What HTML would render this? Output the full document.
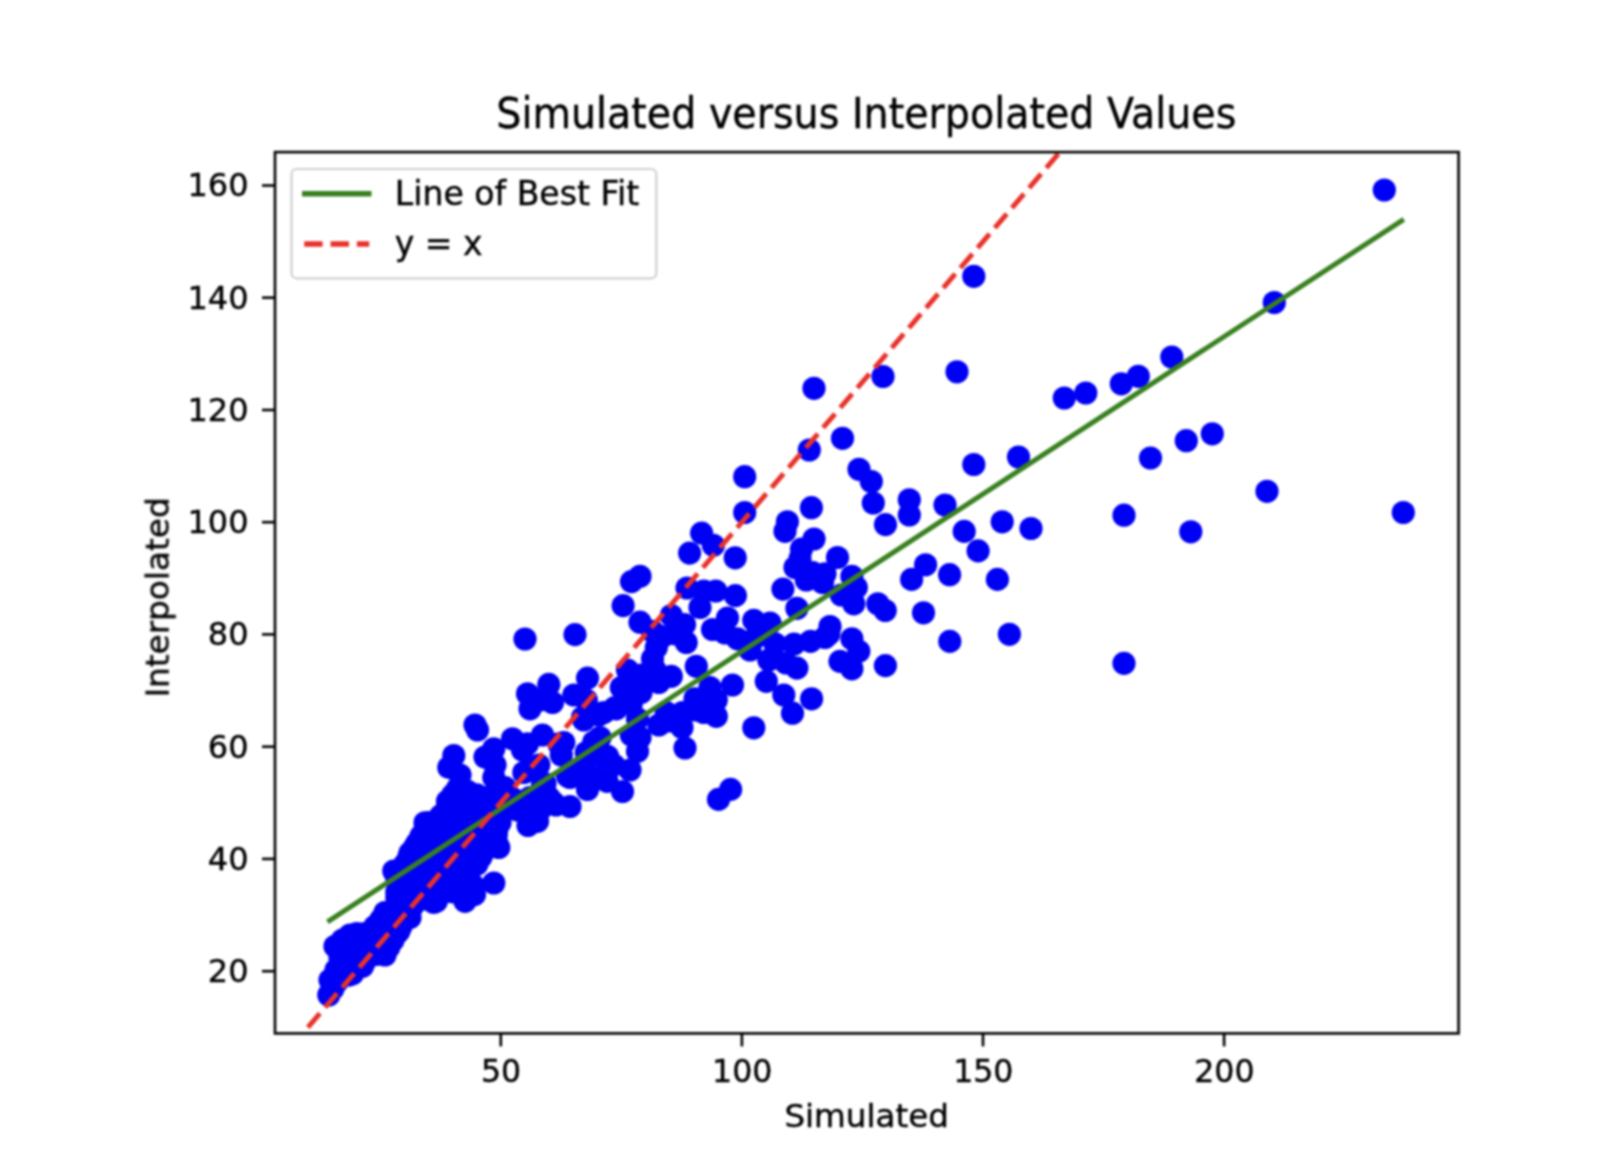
<!DOCTYPE html>
<html lang="en"><head><meta charset="utf-8"><title>Simulated versus Interpolated Values</title>
<style>html,body{margin:0;padding:0;background:#fff;}body{width:1600px;height:1168px;overflow:hidden;}svg{display:block;}text{font-family:"DejaVu Sans","Liberation Sans",sans-serif;fill:#000000;stroke:#000000;stroke-width:0.4px;}</style>
</head><body>
<svg width="1600" height="1168" viewBox="0 0 1600 1168">
<defs><clipPath id="ax"><rect x="275.0" y="152.1" width="1183.6" height="881.3"/></clipPath><filter id="soft" x="-2%" y="-2%" width="104%" height="104%"><feGaussianBlur stdDeviation="0.7"/></filter></defs>
<rect width="1600" height="1168" fill="#ffffff"/>
<g style="filter:blur(1.0px)">
<g clip-path="url(#ax)" fill="#0000f5">
<circle cx="452.8" cy="794.9" r="11.6"/>
<circle cx="460.8" cy="794.9" r="11.6"/>
<circle cx="468.8" cy="794.9" r="11.6"/>
<circle cx="476.8" cy="794.9" r="11.6"/>
<circle cx="448.8" cy="801.9" r="11.6"/>
<circle cx="456.8" cy="801.9" r="11.6"/>
<circle cx="464.8" cy="801.9" r="11.6"/>
<circle cx="472.8" cy="801.9" r="11.6"/>
<circle cx="480.8" cy="801.9" r="11.6"/>
<circle cx="488.8" cy="801.9" r="11.6"/>
<circle cx="496.8" cy="801.9" r="11.6"/>
<circle cx="504.8" cy="801.9" r="11.6"/>
<circle cx="512.8" cy="801.9" r="11.6"/>
<circle cx="520.8" cy="801.9" r="11.6"/>
<circle cx="528.8" cy="801.9" r="11.6"/>
<circle cx="536.8" cy="801.9" r="11.6"/>
<circle cx="544.8" cy="801.9" r="11.6"/>
<circle cx="552.8" cy="801.9" r="11.6"/>
<circle cx="452.8" cy="808.8" r="11.6"/>
<circle cx="460.8" cy="808.8" r="11.6"/>
<circle cx="468.8" cy="808.8" r="11.6"/>
<circle cx="476.8" cy="808.8" r="11.6"/>
<circle cx="484.8" cy="808.8" r="11.6"/>
<circle cx="492.8" cy="808.8" r="11.6"/>
<circle cx="500.8" cy="808.8" r="11.6"/>
<circle cx="508.8" cy="808.8" r="11.6"/>
<circle cx="516.8" cy="808.8" r="11.6"/>
<circle cx="524.8" cy="808.8" r="11.6"/>
<circle cx="532.8" cy="808.8" r="11.6"/>
<circle cx="540.8" cy="808.8" r="11.6"/>
<circle cx="440.8" cy="815.7" r="11.6"/>
<circle cx="448.8" cy="815.7" r="11.6"/>
<circle cx="456.8" cy="815.7" r="11.6"/>
<circle cx="464.8" cy="815.7" r="11.6"/>
<circle cx="472.8" cy="815.7" r="11.6"/>
<circle cx="480.8" cy="815.7" r="11.6"/>
<circle cx="488.8" cy="815.7" r="11.6"/>
<circle cx="496.8" cy="815.7" r="11.6"/>
<circle cx="428.8" cy="822.6" r="11.6"/>
<circle cx="436.8" cy="822.6" r="11.6"/>
<circle cx="444.8" cy="822.6" r="11.6"/>
<circle cx="452.8" cy="822.6" r="11.6"/>
<circle cx="460.8" cy="822.6" r="11.6"/>
<circle cx="468.8" cy="822.6" r="11.6"/>
<circle cx="476.8" cy="822.6" r="11.6"/>
<circle cx="484.8" cy="822.6" r="11.6"/>
<circle cx="492.8" cy="822.6" r="11.6"/>
<circle cx="424.8" cy="829.6" r="11.6"/>
<circle cx="432.8" cy="829.6" r="11.6"/>
<circle cx="440.8" cy="829.6" r="11.6"/>
<circle cx="448.8" cy="829.6" r="11.6"/>
<circle cx="456.8" cy="829.6" r="11.6"/>
<circle cx="464.8" cy="829.6" r="11.6"/>
<circle cx="472.8" cy="829.6" r="11.6"/>
<circle cx="480.8" cy="829.6" r="11.6"/>
<circle cx="488.8" cy="829.6" r="11.6"/>
<circle cx="496.8" cy="829.6" r="11.6"/>
<circle cx="420.8" cy="836.5" r="11.6"/>
<circle cx="428.8" cy="836.5" r="11.6"/>
<circle cx="436.8" cy="836.5" r="11.6"/>
<circle cx="444.8" cy="836.5" r="11.6"/>
<circle cx="452.8" cy="836.5" r="11.6"/>
<circle cx="460.8" cy="836.5" r="11.6"/>
<circle cx="468.8" cy="836.5" r="11.6"/>
<circle cx="476.8" cy="836.5" r="11.6"/>
<circle cx="484.8" cy="836.5" r="11.6"/>
<circle cx="492.8" cy="836.5" r="11.6"/>
<circle cx="416.8" cy="843.4" r="11.6"/>
<circle cx="424.8" cy="843.4" r="11.6"/>
<circle cx="432.8" cy="843.4" r="11.6"/>
<circle cx="440.8" cy="843.4" r="11.6"/>
<circle cx="448.8" cy="843.4" r="11.6"/>
<circle cx="456.8" cy="843.4" r="11.6"/>
<circle cx="464.8" cy="843.4" r="11.6"/>
<circle cx="472.8" cy="843.4" r="11.6"/>
<circle cx="480.8" cy="843.4" r="11.6"/>
<circle cx="488.8" cy="843.4" r="11.6"/>
<circle cx="496.8" cy="843.4" r="11.6"/>
<circle cx="412.8" cy="850.4" r="11.6"/>
<circle cx="420.8" cy="850.4" r="11.6"/>
<circle cx="428.8" cy="850.4" r="11.6"/>
<circle cx="436.8" cy="850.4" r="11.6"/>
<circle cx="444.8" cy="850.4" r="11.6"/>
<circle cx="452.8" cy="850.4" r="11.6"/>
<circle cx="460.8" cy="850.4" r="11.6"/>
<circle cx="468.8" cy="850.4" r="11.6"/>
<circle cx="476.8" cy="850.4" r="11.6"/>
<circle cx="484.8" cy="850.4" r="11.6"/>
<circle cx="408.8" cy="857.3" r="11.6"/>
<circle cx="416.8" cy="857.3" r="11.6"/>
<circle cx="424.8" cy="857.3" r="11.6"/>
<circle cx="432.8" cy="857.3" r="11.6"/>
<circle cx="440.8" cy="857.3" r="11.6"/>
<circle cx="448.8" cy="857.3" r="11.6"/>
<circle cx="456.8" cy="857.3" r="11.6"/>
<circle cx="464.8" cy="857.3" r="11.6"/>
<circle cx="472.8" cy="857.3" r="11.6"/>
<circle cx="480.8" cy="857.3" r="11.6"/>
<circle cx="404.8" cy="864.2" r="11.6"/>
<circle cx="412.8" cy="864.2" r="11.6"/>
<circle cx="420.8" cy="864.2" r="11.6"/>
<circle cx="428.8" cy="864.2" r="11.6"/>
<circle cx="436.8" cy="864.2" r="11.6"/>
<circle cx="444.8" cy="864.2" r="11.6"/>
<circle cx="452.8" cy="864.2" r="11.6"/>
<circle cx="460.8" cy="864.2" r="11.6"/>
<circle cx="468.8" cy="864.2" r="11.6"/>
<circle cx="476.8" cy="864.2" r="11.6"/>
<circle cx="400.8" cy="871.1" r="11.6"/>
<circle cx="408.8" cy="871.1" r="11.6"/>
<circle cx="416.8" cy="871.1" r="11.6"/>
<circle cx="424.8" cy="871.1" r="11.6"/>
<circle cx="432.8" cy="871.1" r="11.6"/>
<circle cx="440.8" cy="871.1" r="11.6"/>
<circle cx="448.8" cy="871.1" r="11.6"/>
<circle cx="456.8" cy="871.1" r="11.6"/>
<circle cx="464.8" cy="871.1" r="11.6"/>
<circle cx="396.8" cy="878.1" r="11.6"/>
<circle cx="404.8" cy="878.1" r="11.6"/>
<circle cx="412.8" cy="878.1" r="11.6"/>
<circle cx="420.8" cy="878.1" r="11.6"/>
<circle cx="428.8" cy="878.1" r="11.6"/>
<circle cx="436.8" cy="878.1" r="11.6"/>
<circle cx="444.8" cy="878.1" r="11.6"/>
<circle cx="452.8" cy="878.1" r="11.6"/>
<circle cx="460.8" cy="878.1" r="11.6"/>
<circle cx="468.8" cy="878.1" r="11.6"/>
<circle cx="400.8" cy="885.0" r="11.6"/>
<circle cx="408.8" cy="885.0" r="11.6"/>
<circle cx="416.8" cy="885.0" r="11.6"/>
<circle cx="424.8" cy="885.0" r="11.6"/>
<circle cx="432.8" cy="885.0" r="11.6"/>
<circle cx="440.8" cy="885.0" r="11.6"/>
<circle cx="448.8" cy="885.0" r="11.6"/>
<circle cx="456.8" cy="885.0" r="11.6"/>
<circle cx="464.8" cy="885.0" r="11.6"/>
<circle cx="472.8" cy="885.0" r="11.6"/>
<circle cx="396.8" cy="891.9" r="11.6"/>
<circle cx="404.8" cy="891.9" r="11.6"/>
<circle cx="412.8" cy="891.9" r="11.6"/>
<circle cx="420.8" cy="891.9" r="11.6"/>
<circle cx="428.8" cy="891.9" r="11.6"/>
<circle cx="436.8" cy="891.9" r="11.6"/>
<circle cx="444.8" cy="891.9" r="11.6"/>
<circle cx="452.8" cy="891.9" r="11.6"/>
<circle cx="460.8" cy="891.9" r="11.6"/>
<circle cx="468.8" cy="891.9" r="11.6"/>
<circle cx="400.8" cy="898.8" r="11.6"/>
<circle cx="408.8" cy="898.8" r="11.6"/>
<circle cx="416.8" cy="898.8" r="11.6"/>
<circle cx="424.8" cy="898.8" r="11.6"/>
<circle cx="432.8" cy="898.8" r="11.6"/>
<circle cx="464.8" cy="898.8" r="11.6"/>
<circle cx="396.8" cy="905.8" r="11.6"/>
<circle cx="404.8" cy="905.8" r="11.6"/>
<circle cx="412.8" cy="905.8" r="11.6"/>
<circle cx="392.8" cy="912.7" r="11.6"/>
<circle cx="400.8" cy="912.7" r="11.6"/>
<circle cx="408.8" cy="912.7" r="11.6"/>
<circle cx="380.8" cy="919.6" r="11.6"/>
<circle cx="388.8" cy="919.6" r="11.6"/>
<circle cx="396.8" cy="919.6" r="11.6"/>
<circle cx="404.8" cy="919.6" r="11.6"/>
<circle cx="376.8" cy="926.6" r="11.6"/>
<circle cx="384.8" cy="926.6" r="11.6"/>
<circle cx="392.8" cy="926.6" r="11.6"/>
<circle cx="400.8" cy="926.6" r="11.6"/>
<circle cx="356.8" cy="933.5" r="11.6"/>
<circle cx="364.8" cy="933.5" r="11.6"/>
<circle cx="372.8" cy="933.5" r="11.6"/>
<circle cx="380.8" cy="933.5" r="11.6"/>
<circle cx="388.8" cy="933.5" r="11.6"/>
<circle cx="396.8" cy="933.5" r="11.6"/>
<circle cx="344.8" cy="940.4" r="11.6"/>
<circle cx="352.8" cy="940.4" r="11.6"/>
<circle cx="360.8" cy="940.4" r="11.6"/>
<circle cx="368.8" cy="940.4" r="11.6"/>
<circle cx="376.8" cy="940.4" r="11.6"/>
<circle cx="384.8" cy="940.4" r="11.6"/>
<circle cx="392.8" cy="940.4" r="11.6"/>
<circle cx="340.8" cy="947.3" r="11.6"/>
<circle cx="348.8" cy="947.3" r="11.6"/>
<circle cx="356.8" cy="947.3" r="11.6"/>
<circle cx="364.8" cy="947.3" r="11.6"/>
<circle cx="372.8" cy="947.3" r="11.6"/>
<circle cx="380.8" cy="947.3" r="11.6"/>
<circle cx="388.8" cy="947.3" r="11.6"/>
<circle cx="344.8" cy="954.3" r="11.6"/>
<circle cx="352.8" cy="954.3" r="11.6"/>
<circle cx="360.8" cy="954.3" r="11.6"/>
<circle cx="368.8" cy="954.3" r="11.6"/>
<circle cx="376.8" cy="954.3" r="11.6"/>
<circle cx="384.8" cy="954.3" r="11.6"/>
<circle cx="340.8" cy="961.2" r="11.6"/>
<circle cx="348.8" cy="961.2" r="11.6"/>
<circle cx="356.8" cy="961.2" r="11.6"/>
<circle cx="364.8" cy="961.2" r="11.6"/>
<circle cx="344.8" cy="968.1" r="11.6"/>
<circle cx="352.8" cy="968.1" r="11.6"/>
<circle cx="340.8" cy="975.1" r="11.6"/>
<circle cx="348.8" cy="975.1" r="11.6"/>
<circle cx="336.8" cy="982.0" r="11.6"/>
<circle cx="332.8" cy="988.9" r="11.6"/>
<circle cx="540.0" cy="700.0" r="11.6"/>
<circle cx="527.5" cy="743.8" r="11.6"/>
<circle cx="670.0" cy="721.0" r="11.6"/>
<circle cx="656.3" cy="647.5" r="11.6"/>
<circle cx="652.5" cy="631.3" r="11.6"/>
<circle cx="641.3" cy="675.0" r="11.6"/>
<circle cx="631.3" cy="703.8" r="11.6"/>
<circle cx="675.0" cy="720.0" r="11.6"/>
<circle cx="695.0" cy="710.0" r="11.6"/>
<circle cx="505.0" cy="787.5" r="11.6"/>
<circle cx="387.5" cy="925.0" r="11.6"/>
<circle cx="423.8" cy="876.0" r="11.6"/>
<circle cx="404.0" cy="868.0" r="11.6"/>
<circle cx="457.5" cy="788.8" r="11.6"/>
<circle cx="1384.3" cy="190.0" r="11.6"/>
<circle cx="1274.3" cy="302.5" r="11.6"/>
<circle cx="1171.8" cy="357.0" r="11.6"/>
<circle cx="1138.3" cy="376.3" r="11.6"/>
<circle cx="1121.3" cy="383.8" r="11.6"/>
<circle cx="1085.8" cy="393.0" r="11.6"/>
<circle cx="1064.3" cy="398.0" r="11.6"/>
<circle cx="1212.3" cy="433.8" r="11.6"/>
<circle cx="1186.3" cy="440.7" r="11.6"/>
<circle cx="1150.5" cy="458.0" r="11.6"/>
<circle cx="1267.0" cy="491.3" r="11.6"/>
<circle cx="1403.3" cy="512.5" r="11.6"/>
<circle cx="1124.0" cy="515.2" r="11.6"/>
<circle cx="1190.8" cy="531.8" r="11.6"/>
<circle cx="1124.0" cy="663.3" r="11.6"/>
<circle cx="973.8" cy="276.3" r="11.6"/>
<circle cx="957.0" cy="371.8" r="11.6"/>
<circle cx="883.0" cy="376.5" r="11.6"/>
<circle cx="814.0" cy="388.3" r="11.6"/>
<circle cx="842.5" cy="438.3" r="11.6"/>
<circle cx="809.3" cy="450.0" r="11.6"/>
<circle cx="1018.5" cy="457.0" r="11.6"/>
<circle cx="973.8" cy="464.5" r="11.6"/>
<circle cx="859.0" cy="469.3" r="11.6"/>
<circle cx="871.3" cy="481.5" r="11.6"/>
<circle cx="744.7" cy="476.7" r="11.6"/>
<circle cx="909.3" cy="499.8" r="11.6"/>
<circle cx="873.3" cy="503.0" r="11.6"/>
<circle cx="945.0" cy="505.0" r="11.6"/>
<circle cx="811.4" cy="507.7" r="11.6"/>
<circle cx="909.3" cy="515.0" r="11.6"/>
<circle cx="744.7" cy="512.5" r="11.6"/>
<circle cx="787.4" cy="521.8" r="11.6"/>
<circle cx="885.5" cy="524.6" r="11.6"/>
<circle cx="1002.2" cy="521.8" r="11.6"/>
<circle cx="1031.0" cy="528.5" r="11.6"/>
<circle cx="964.2" cy="531.4" r="11.6"/>
<circle cx="978.1" cy="550.9" r="11.6"/>
<circle cx="925.6" cy="564.8" r="11.6"/>
<circle cx="911.6" cy="579.4" r="11.6"/>
<circle cx="949.6" cy="574.7" r="11.6"/>
<circle cx="997.4" cy="579.4" r="11.6"/>
<circle cx="877.8" cy="603.8" r="11.6"/>
<circle cx="885.2" cy="610.5" r="11.6"/>
<circle cx="923.5" cy="612.8" r="11.6"/>
<circle cx="949.8" cy="641.4" r="11.6"/>
<circle cx="1009.4" cy="634.3" r="11.6"/>
<circle cx="885.4" cy="665.6" r="11.6"/>
<circle cx="785.0" cy="531.3" r="11.6"/>
<circle cx="814.0" cy="539.0" r="11.6"/>
<circle cx="801.5" cy="549.0" r="11.6"/>
<circle cx="837.5" cy="557.5" r="11.6"/>
<circle cx="800.0" cy="558.8" r="11.6"/>
<circle cx="795.0" cy="567.5" r="11.6"/>
<circle cx="812.5" cy="572.5" r="11.6"/>
<circle cx="825.0" cy="573.8" r="11.6"/>
<circle cx="806.3" cy="580.0" r="11.6"/>
<circle cx="822.5" cy="582.5" r="11.6"/>
<circle cx="851.9" cy="576.3" r="11.6"/>
<circle cx="856.3" cy="587.5" r="11.6"/>
<circle cx="841.3" cy="595.0" r="11.6"/>
<circle cx="853.8" cy="603.8" r="11.6"/>
<circle cx="782.9" cy="589.1" r="11.6"/>
<circle cx="796.9" cy="608.3" r="11.6"/>
<circle cx="735.2" cy="557.8" r="11.6"/>
<circle cx="701.6" cy="533.1" r="11.6"/>
<circle cx="713.4" cy="545.3" r="11.6"/>
<circle cx="703.8" cy="591.0" r="11.6"/>
<circle cx="715.8" cy="591.0" r="11.6"/>
<circle cx="735.4" cy="595.6" r="11.6"/>
<circle cx="727.5" cy="618.0" r="11.6"/>
<circle cx="753.8" cy="620.3" r="11.6"/>
<circle cx="770.0" cy="623.0" r="11.6"/>
<circle cx="712.5" cy="629.5" r="11.6"/>
<circle cx="830.0" cy="626.5" r="11.6"/>
<circle cx="828.8" cy="634.0" r="11.6"/>
<circle cx="825.0" cy="637.5" r="11.6"/>
<circle cx="851.9" cy="638.8" r="11.6"/>
<circle cx="810.5" cy="641.3" r="11.6"/>
<circle cx="794.0" cy="644.0" r="11.6"/>
<circle cx="725.0" cy="633.0" r="11.6"/>
<circle cx="756.0" cy="637.0" r="11.6"/>
<circle cx="700.0" cy="607.5" r="11.6"/>
<circle cx="689.6" cy="553.1" r="11.6"/>
<circle cx="640.0" cy="576.3" r="11.6"/>
<circle cx="631.5" cy="581.6" r="11.6"/>
<circle cx="623.1" cy="605.6" r="11.6"/>
<circle cx="640.0" cy="622.2" r="11.6"/>
<circle cx="687.0" cy="588.0" r="11.6"/>
<circle cx="671.3" cy="615.5" r="11.6"/>
<circle cx="575.0" cy="634.6" r="11.6"/>
<circle cx="525.0" cy="639.0" r="11.6"/>
<circle cx="684.5" cy="624.5" r="11.6"/>
<circle cx="662.5" cy="636.5" r="11.6"/>
<circle cx="675.0" cy="633.8" r="11.6"/>
<circle cx="686.3" cy="642.5" r="11.6"/>
<circle cx="652.5" cy="658.8" r="11.6"/>
<circle cx="655.0" cy="670.0" r="11.6"/>
<circle cx="696.3" cy="666.3" r="11.6"/>
<circle cx="671.3" cy="676.3" r="11.6"/>
<circle cx="627.5" cy="670.0" r="11.6"/>
<circle cx="621.3" cy="687.5" r="11.6"/>
<circle cx="635.0" cy="685.0" r="11.6"/>
<circle cx="641.0" cy="692.5" r="11.6"/>
<circle cx="658.8" cy="682.5" r="11.6"/>
<circle cx="615.0" cy="707.5" r="11.6"/>
<circle cx="603.8" cy="712.5" r="11.6"/>
<circle cx="737.5" cy="638.8" r="11.6"/>
<circle cx="750.0" cy="650.0" r="11.6"/>
<circle cx="775.0" cy="643.8" r="11.6"/>
<circle cx="768.8" cy="660.0" r="11.6"/>
<circle cx="786.0" cy="663.0" r="11.6"/>
<circle cx="796.9" cy="668.1" r="11.6"/>
<circle cx="766.3" cy="681.3" r="11.6"/>
<circle cx="732.5" cy="685.0" r="11.6"/>
<circle cx="783.8" cy="695.0" r="11.6"/>
<circle cx="792.5" cy="713.2" r="11.6"/>
<circle cx="753.8" cy="727.8" r="11.6"/>
<circle cx="710.0" cy="687.5" r="11.6"/>
<circle cx="695.0" cy="698.8" r="11.6"/>
<circle cx="716.3" cy="700.0" r="11.6"/>
<circle cx="703.8" cy="712.5" r="11.6"/>
<circle cx="716.3" cy="716.3" r="11.6"/>
<circle cx="682.5" cy="712.5" r="11.6"/>
<circle cx="666.3" cy="712.5" r="11.6"/>
<circle cx="658.8" cy="725.0" r="11.6"/>
<circle cx="682.0" cy="727.5" r="11.6"/>
<circle cx="637.5" cy="718.8" r="11.6"/>
<circle cx="631.3" cy="735.0" r="11.6"/>
<circle cx="640.0" cy="737.5" r="11.6"/>
<circle cx="685.0" cy="748.0" r="11.6"/>
<circle cx="600.0" cy="737.5" r="11.6"/>
<circle cx="858.8" cy="651.3" r="11.6"/>
<circle cx="840.0" cy="661.3" r="11.6"/>
<circle cx="851.9" cy="668.8" r="11.6"/>
<circle cx="811.6" cy="698.8" r="11.6"/>
<circle cx="587.5" cy="678.1" r="11.6"/>
<circle cx="548.8" cy="684.4" r="11.6"/>
<circle cx="527.5" cy="693.8" r="11.6"/>
<circle cx="530.0" cy="708.8" r="11.6"/>
<circle cx="552.5" cy="702.5" r="11.6"/>
<circle cx="573.8" cy="695.0" r="11.6"/>
<circle cx="586.3" cy="700.0" r="11.6"/>
<circle cx="582.5" cy="717.5" r="11.6"/>
<circle cx="598.8" cy="715.0" r="11.6"/>
<circle cx="475.0" cy="725.0" r="11.6"/>
<circle cx="477.5" cy="730.0" r="11.6"/>
<circle cx="512.5" cy="738.8" r="11.6"/>
<circle cx="542.5" cy="735.0" r="11.6"/>
<circle cx="493.8" cy="748.8" r="11.6"/>
<circle cx="453.8" cy="755.5" r="11.6"/>
<circle cx="448.8" cy="767.5" r="11.6"/>
<circle cx="460.0" cy="775.0" r="11.6"/>
<circle cx="485.0" cy="757.0" r="11.6"/>
<circle cx="495.0" cy="765.0" r="11.6"/>
<circle cx="493.8" cy="777.5" r="11.6"/>
<circle cx="522.5" cy="750.0" r="11.6"/>
<circle cx="526.3" cy="771.3" r="11.6"/>
<circle cx="558.8" cy="743.8" r="11.6"/>
<circle cx="561.3" cy="755.0" r="11.6"/>
<circle cx="593.8" cy="742.0" r="11.6"/>
<circle cx="586.3" cy="752.5" r="11.6"/>
<circle cx="607.5" cy="756.3" r="11.6"/>
<circle cx="595.0" cy="777.5" r="11.6"/>
<circle cx="570.0" cy="777.5" r="11.6"/>
<circle cx="613.8" cy="765.0" r="11.6"/>
<circle cx="545.0" cy="783.8" r="11.6"/>
<circle cx="538.8" cy="765.0" r="11.6"/>
<circle cx="730.6" cy="789.4" r="11.6"/>
<circle cx="718.5" cy="799.4" r="11.6"/>
<circle cx="637.5" cy="751.3" r="11.6"/>
<circle cx="630.0" cy="770.0" r="11.6"/>
<circle cx="622.5" cy="791.5" r="11.6"/>
<circle cx="587.5" cy="789.5" r="11.6"/>
<circle cx="570.0" cy="806.5" r="11.6"/>
<circle cx="556.0" cy="805.0" r="11.6"/>
<circle cx="603.8" cy="757.5" r="11.6"/>
<circle cx="583.8" cy="720.0" r="11.6"/>
<circle cx="597.5" cy="713.8" r="11.6"/>
<circle cx="616.3" cy="708.8" r="11.6"/>
<circle cx="563.8" cy="742.5" r="11.6"/>
<circle cx="585.0" cy="770.0" r="11.6"/>
<circle cx="607.0" cy="781.3" r="11.6"/>
<circle cx="567.5" cy="776.0" r="11.6"/>
<circle cx="447.5" cy="801.3" r="11.6"/>
<circle cx="445.0" cy="812.5" r="11.6"/>
<circle cx="425.0" cy="822.8" r="11.6"/>
<circle cx="414.5" cy="847.5" r="11.6"/>
<circle cx="410.0" cy="853.0" r="11.6"/>
<circle cx="393.8" cy="871.0" r="11.6"/>
<circle cx="396.8" cy="897.5" r="11.6"/>
<circle cx="493.8" cy="883.0" r="11.6"/>
<circle cx="474.5" cy="894.5" r="11.6"/>
<circle cx="498.8" cy="847.5" r="11.6"/>
<circle cx="496.3" cy="835.0" r="11.6"/>
<circle cx="500.0" cy="822.5" r="11.6"/>
<circle cx="528.0" cy="825.5" r="11.6"/>
<circle cx="537.5" cy="821.3" r="11.6"/>
<circle cx="523.8" cy="772.5" r="11.6"/>
<circle cx="542.5" cy="785.0" r="11.6"/>
<circle cx="580.0" cy="772.0" r="11.6"/>
<circle cx="467.5" cy="791.3" r="11.6"/>
<circle cx="486.3" cy="797.5" r="11.6"/>
<circle cx="511.3" cy="797.5" r="11.6"/>
<circle cx="530.0" cy="797.5" r="11.6"/>
<circle cx="548.8" cy="797.5" r="11.6"/>
<circle cx="461.3" cy="812.5" r="11.6"/>
<circle cx="480.0" cy="816.3" r="11.6"/>
<circle cx="442.5" cy="828.8" r="11.6"/>
<circle cx="461.3" cy="832.5" r="11.6"/>
<circle cx="480.0" cy="835.0" r="11.6"/>
<circle cx="430.0" cy="847.5" r="11.6"/>
<circle cx="448.8" cy="850.0" r="11.6"/>
<circle cx="467.5" cy="852.5" r="11.6"/>
<circle cx="484.0" cy="849.0" r="11.6"/>
<circle cx="417.5" cy="866.3" r="11.6"/>
<circle cx="436.3" cy="868.8" r="11.6"/>
<circle cx="455.0" cy="872.5" r="11.6"/>
<circle cx="470.0" cy="869.0" r="11.6"/>
<circle cx="411.3" cy="885.0" r="11.6"/>
<circle cx="430.0" cy="887.5" r="11.6"/>
<circle cx="448.8" cy="887.5" r="11.6"/>
<circle cx="464.0" cy="885.0" r="11.6"/>
<circle cx="417.5" cy="900.0" r="11.6"/>
<circle cx="436.3" cy="901.3" r="11.6"/>
<circle cx="505.0" cy="810.0" r="11.6"/>
<circle cx="517.5" cy="810.0" r="11.6"/>
<circle cx="385.0" cy="912.5" r="11.6"/>
<circle cx="350.0" cy="935.0" r="11.6"/>
<circle cx="335.0" cy="946.3" r="11.6"/>
<circle cx="342.5" cy="940.0" r="11.6"/>
<circle cx="330.0" cy="980.0" r="11.6"/>
<circle cx="328.8" cy="995.0" r="11.6"/>
<circle cx="385.0" cy="955.0" r="11.6"/>
<circle cx="362.5" cy="966.3" r="11.6"/>
<circle cx="352.5" cy="973.8" r="11.6"/>
<circle cx="398.8" cy="931.3" r="11.6"/>
<circle cx="410.0" cy="917.5" r="11.6"/>
<circle cx="433.8" cy="902.5" r="11.6"/>
<circle cx="465.0" cy="901.3" r="11.6"/>
<circle cx="362.5" cy="935.0" r="11.6"/>
<circle cx="375.0" cy="926.3" r="11.6"/>
<circle cx="356.3" cy="953.8" r="11.6"/>
<circle cx="370.0" cy="947.5" r="11.6"/>
<circle cx="343.8" cy="966.3" r="11.6"/>
<circle cx="381.0" cy="941.0" r="11.6"/>
<circle cx="412.5" cy="901.3" r="11.6"/>
<circle cx="425.0" cy="891.3" r="11.6"/>
<circle cx="450.0" cy="885.0" r="11.6"/>
<circle cx="462.5" cy="872.5" r="11.6"/>
<circle cx="412.5" cy="878.8" r="11.6"/>
<circle cx="437.5" cy="872.5" r="11.6"/>
<circle cx="400.0" cy="916.0" r="11.6"/>
<circle cx="340.0" cy="958.0" r="11.6"/>
<circle cx="336.0" cy="970.0" r="11.6"/>
</g>
<g clip-path="url(#ax)" fill="none">
<line x1="327.5" y1="921.8" x2="1403.8" y2="219.3" stroke="#38801f" stroke-width="5"/>
<line x1="307.9" y1="1027.3" x2="1417.0" y2="-263.5" stroke="#e8322a" stroke-width="5" stroke-dasharray="18.4 7.95"/>
</g>
<rect x="275.0" y="152.1" width="1183.6" height="881.3" fill="none" stroke="#000" stroke-width="2.60"/>
<line x1="500.8" y1="1033.4" x2="500.8" y2="1046.4" stroke="#000" stroke-width="2.60"/>
<text x="501.1" y="1082.0" font-size="31.6" text-anchor="middle">50</text>
<line x1="741.9" y1="1033.4" x2="741.9" y2="1046.4" stroke="#000" stroke-width="2.60"/>
<text x="742.2" y="1082.0" font-size="31.6" text-anchor="middle">100</text>
<line x1="983.0" y1="1033.4" x2="983.0" y2="1046.4" stroke="#000" stroke-width="2.60"/>
<text x="983.3" y="1082.0" font-size="31.6" text-anchor="middle">150</text>
<line x1="1224.1" y1="1033.4" x2="1224.1" y2="1046.4" stroke="#000" stroke-width="2.60"/>
<text x="1224.4" y="1082.0" font-size="31.6" text-anchor="middle">200</text>
<line x1="262.0" y1="971.2" x2="275.0" y2="971.2" stroke="#000" stroke-width="2.60"/>
<text x="248.5" y="982.1" font-size="32.0" text-anchor="end">20</text>
<line x1="262.0" y1="858.9" x2="275.0" y2="858.9" stroke="#000" stroke-width="2.60"/>
<text x="248.5" y="869.8" font-size="32.0" text-anchor="end">40</text>
<line x1="262.0" y1="746.7" x2="275.0" y2="746.7" stroke="#000" stroke-width="2.60"/>
<text x="248.5" y="757.6" font-size="32.0" text-anchor="end">60</text>
<line x1="262.0" y1="634.4" x2="275.0" y2="634.4" stroke="#000" stroke-width="2.60"/>
<text x="248.5" y="645.3" font-size="32.0" text-anchor="end">80</text>
<line x1="262.0" y1="522.2" x2="275.0" y2="522.2" stroke="#000" stroke-width="2.60"/>
<text x="248.5" y="533.1" font-size="32.0" text-anchor="end">100</text>
<line x1="262.0" y1="410.0" x2="275.0" y2="410.0" stroke="#000" stroke-width="2.60"/>
<text x="248.5" y="420.9" font-size="32.0" text-anchor="end">120</text>
<line x1="262.0" y1="297.7" x2="275.0" y2="297.7" stroke="#000" stroke-width="2.60"/>
<text x="248.5" y="308.6" font-size="32.0" text-anchor="end">140</text>
<line x1="262.0" y1="185.5" x2="275.0" y2="185.5" stroke="#000" stroke-width="2.60"/>
<text x="248.5" y="196.4" font-size="32.0" text-anchor="end">160</text>
<text x="866.7" y="1127.3" font-size="32.6" text-anchor="middle">Simulated</text>
<text transform="translate(168.6,597.5) rotate(-90)" font-size="32.7" text-anchor="middle">Interpolated</text>
<text transform="translate(866.3,128.3) scale(1,1.062)" font-size="39.6" text-anchor="middle">Simulated versus Interpolated Values</text>
<rect x="291.5" y="169" width="364.8" height="109.3" rx="5" ry="5" fill="#ffffff" fill-opacity="0.8" stroke="#d0d0d0" stroke-width="2.2"/>
<line x1="302" y1="193.8" x2="371.5" y2="193.8" stroke="#38801f" stroke-width="5.4"/>
<line  x1="304.2" y1="244" x2="369.2" y2="244" stroke="#e8322a" stroke-width="5.4" stroke-dasharray="18.4 7.95"/>
<text x="394.8" y="205.4" font-size="33.1">Line of Best Fit</text>
<text x="394.7" y="255" font-size="33.1">y = x</text>
</g>
</svg></body></html>
